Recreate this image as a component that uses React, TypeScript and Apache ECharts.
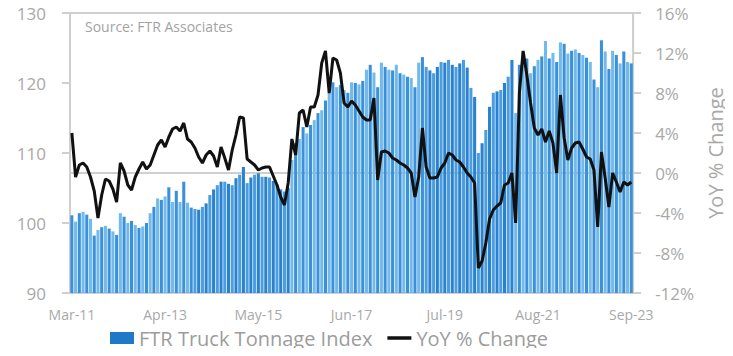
import React, { useEffect, useRef } from "react";
import * as echarts from "echarts";

const monthNames = ["Jan", "Feb", "Mar", "Apr", "May", "Jun", "Jul", "Aug", "Sep", "Oct", "Nov", "Dec"];
const startYear = 2011;
const startMonth = 2; // March
const monthCount = 151;

const categories: string[] = [];
for (let i = 0; i < monthCount; i++) {
  const m = (startMonth + i) % 12;
  const y = startYear + Math.floor((startMonth + i) / 12);
  categories.push(`${monthNames[m]}-${String(y % 100).padStart(2, "0")}`);
}

const tonnageIndex = [
  101.1, 100.2, 101.4, 101.6, 101.2, 100.6, 98.2, 99.0, 99.4, 99.6,
  99.2, 98.8, 98.3, 101.4, 100.9, 100.0, 100.3, 99.7, 99.3, 99.5,
  100.0, 101.4, 102.3, 103.5, 103.3, 103.8, 105.1, 103.0, 104.6, 103.0,
  105.9, 102.9, 102.2, 102.0, 101.9, 102.3, 102.8, 104.0, 104.8, 105.4,
  105.9, 105.9, 105.6, 105.4, 106.4, 106.9, 108.0, 105.7, 106.5, 106.9,
  107.1, 106.6, 106.6, 106.5, 106.0, 105.5, 104.8, 104.5, 105.0, 109.0,
  111.4, 112.0, 113.7, 112.8, 114.0, 114.7, 115.7, 116.1, 117.5, 118.6,
  120.1, 119.4, 119.7, 119.0, 118.6, 120.1, 120.0, 119.8, 120.3, 121.9,
  122.6, 121.5, 119.4, 122.9, 122.3, 121.9, 121.8, 122.6, 121.4, 121.2,
  120.9, 120.7, 119.4, 122.9, 123.7, 122.3, 121.8, 121.4, 122.3, 123.0,
  122.9, 123.3, 122.6, 122.3, 122.8, 123.3, 122.2, 119.3, 118.0, 110.0,
  111.4, 113.3, 116.6, 118.6, 118.8, 119.0, 120.0, 120.9, 123.3, 115.7,
  122.6, 124.4, 123.5, 121.4, 122.4, 123.3, 123.8, 126.0, 123.5, 124.3,
  123.0, 125.8, 125.6, 124.2, 124.6, 124.8, 124.3, 124.0, 123.6, 123.0,
  120.5, 119.4, 126.1, 124.5, 122.0, 124.6, 124.0, 122.8, 124.5, 123.0,
  122.8,
];

const yoyChange = [
  4.0, -0.4, 0.8, 1.0, 0.6, -0.4, -1.8, -4.5, -2.2, -0.6,
  -0.8, -1.6, -2.9, 1.0, 0.2, -1.2, -1.7, -0.4, 0.4, 1.1,
  0.4, 0.8, 1.8, 2.8, 3.3, 2.6, 3.6, 4.4, 4.6, 4.2,
  5.0, 3.4, 3.1, 2.5, 1.6, 1.0, 1.8, 2.2, 1.7, 0.6,
  2.6, 1.5, 0.3, 2.3, 3.8, 5.6, 5.5, 1.4, 1.1, 0.8,
  0.3, 0.5, 0.6, 0.6, -0.3, -1.2, -2.4, -3.2, -1.0, 3.4,
  1.8, 6.0, 6.3, 4.6, 6.6, 6.6, 7.8, 11.0, 12.2, 8.0,
  11.5, 11.3, 10.0, 7.0, 6.6, 7.2, 6.8, 6.2, 5.6, 5.3,
  5.3, 7.5, -0.7, 2.1, 2.2, 2.0, 1.5, 1.3, 1.0, 0.8,
  0.5, 0.0, -2.4, -0.4, 4.5, 0.6, -0.5, -0.5, -0.4, 0.5,
  1.0, 2.0, 1.8, 1.3, 1.1, 0.6, 0.0, -0.4, -1.0, -9.5,
  -8.8, -7.0, -4.6, -3.7, -3.3, -3.0, -1.2, -1.0, 0.0, -5.0,
  8.0, 12.2, 9.8, 7.0, 4.5, 3.8, 4.4, 3.1, 4.2, 3.0,
  0.0, 7.8, 3.5, 1.3, 2.5, 3.0, 3.1, 2.4, 1.6, 1.4,
  0.3, -5.4, 2.1, -0.5, -3.4, 0.0, -0.9, -1.9, -0.9, -1.2,
  -0.9,
];

const leftTicks = { min: 90, max: 130, interval: 10 };
const rightTicks = { min: -12, max: 16, interval: 4 };

const seriesNames = ["FTR Truck Tonnage Index", "YoY % Change"];
const rightAxisName = "YoY % Change";
const sourceNote = "Source: FTR Associates";

const FONT = "'Open Sans', 'Noto Sans', sans-serif";
const LABEL = "#a8a8a8";
const AXIS = "#cfcfcf";

function barColor(i: number): string {
  const darkZone = (i >= 33 && i <= 58) || (i >= 95 && i <= 118);
  if (darkZone) return i % 2 === 0 ? "#2a82cf" : "#4a9de0";
  return i % 2 === 0 ? "#3a91da" : "#72b9ec";
}

export default function App() {
  const ref = useRef<HTMLDivElement>(null);

  useEffect(() => {
    if (!ref.current) return;
    const chart = echarts.init(ref.current, undefined, { renderer: "svg" });
    chart.setOption({
      animation: false,
      backgroundColor: "#ffffff",
      grid: {
        left: 70,
        right: 98,
        top: 13,
        bottom: 63,
        show: true,
        borderColor: AXIS,
        borderWidth: 2,
        containLabel: false,
      },
      graphic: [
        {
          type: "text",
          left: 85,
          top: 19,
          style: { text: sourceNote, fill: "#a3a3a3", fontSize: 14, fontFamily: FONT },
        },
      ],
      legend: {
        left: 110,
        top: 328,
        padding: 0,
        itemWidth: 24,
        itemHeight: 12,
        itemGap: 15,
        textStyle: { color: "#9c9c9c", fontSize: 20, lineHeight: 20, fontFamily: FONT },
        data: [
          { name: seriesNames[0], icon: "rect", itemStyle: { color: "#1f78c8" } },
          { name: seriesNames[1], icon: "path://M0,0 H24 V3.5 H0 Z", itemStyle: { color: "#111111" } },
        ],
      },
      xAxis: {
        type: "category",
        data: categories,
        boundaryGap: true,
        axisLine: { show: true, lineStyle: { color: AXIS, width: 2 } },
        axisTick: { show: false },
        axisLabel: {
          interval: 24,
          color: LABEL,
          fontSize: 14,
          lineHeight: 14,
          fontFamily: FONT,
          margin: 14,
        },
      },
      yAxis: [
        {
          type: "value",
          min: leftTicks.min,
          max: leftTicks.max,
          interval: leftTicks.interval,
          axisLine: { show: true, lineStyle: { color: AXIS, width: 2 } },
          axisTick: { show: true, length: 8, lineStyle: { color: AXIS, width: 2 } },
          splitLine: { show: false },
          axisLabel: { color: LABEL, fontSize: 17, fontFamily: FONT, margin: 24 },
        },
        {
          type: "value",
          position: "right",
          min: rightTicks.min,
          max: rightTicks.max,
          interval: rightTicks.interval,
          name: rightAxisName,
          nameLocation: "middle",
          nameRotate: 90,
          nameGap: 62,
          nameTextStyle: { color: LABEL, fontSize: 20, fontFamily: FONT },
          axisLine: { show: true, lineStyle: { color: AXIS, width: 2 } },
          axisTick: { show: true, length: 8, lineStyle: { color: AXIS, width: 2 } },
          splitLine: { show: false },
          axisLabel: {
            color: LABEL,
            fontSize: 17,
            fontFamily: FONT,
            margin: 22,
            formatter: (v: number) => `${v}%`,
          },
        },
      ],
      series: [
        {
          name: seriesNames[0],
          type: "bar",
          yAxisIndex: 0,
          data: tonnageIndex,
          barCategoryGap: "18%",
          itemStyle: {
            color: (p: any) => barColor(p.dataIndex),
          },
          z: 2,
        },
        {
          name: seriesNames[1],
          type: "line",
          yAxisIndex: 1,
          data: yoyChange,
          symbol: "none",
          lineStyle: { color: "#111111", width: 3 },
          itemStyle: { color: "#111111" },
          z: 3,
        },
      ],
    });
    return () => chart.dispose();
  }, []);

  return <div ref={ref} style={{ width: 733, height: 356, margin: -8 }} />;
}
